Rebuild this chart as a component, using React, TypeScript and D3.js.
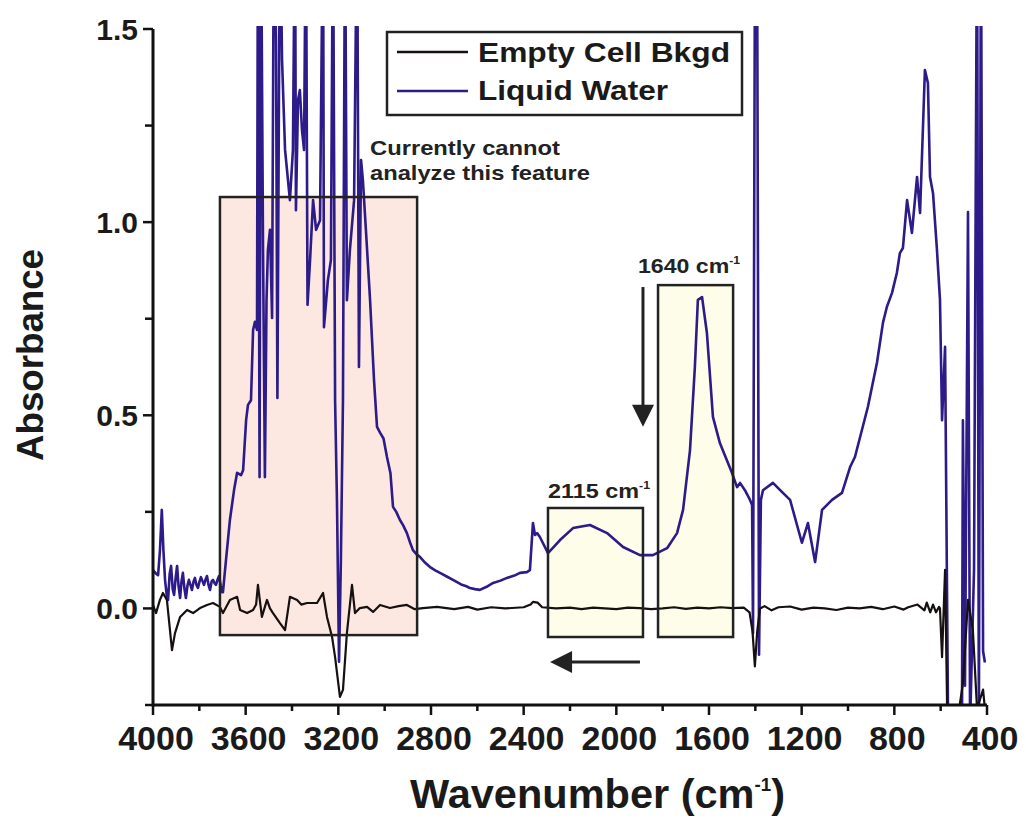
import React from 'react';
import * as d3 from 'd3';

// ---- Data (wavenumber in cm-1, absorbance) ----
const waterWn = [
  4000, 3987, 3978, 3970, 3962, 3955, 3948, 3940, 3935, 3928, 3922, 3915, 3909, 3902, 3896, 3890,
  3883, 3877, 3871, 3864, 3858, 3851, 3845, 3838, 3832, 3825, 3819, 3812, 3806, 3799, 3793, 3786,
  3780, 3773, 3767, 3760, 3754, 3747, 3741, 3734, 3728, 3721, 3715, 3708, 3702, 3698, 3685, 3668,
  3650, 3637, 3620, 3611, 3598, 3590, 3577, 3568, 3560, 3551, 3547, 3540, 3534, 3525, 3517, 3510,
  3504, 3495, 3486, 3478, 3469, 3463, 3452, 3443, 3430, 3409, 3396, 3387, 3383, 3374, 3366, 3357,
  3348, 3340, 3333, 3322, 3309, 3296, 3279, 3266, 3262, 3245, 3232, 3223, 3214, 3206, 3197, 3189,
  3180, 3171, 3163, 3150, 3132, 3119, 3111, 3102, 3094, 3081, 3063, 3046, 3033, 3020, 3005, 2990, 2975, 2964,
  2950, 2934, 2920, 2904, 2890, 2878, 2862, 2847, 2825, 2804, 2780, 2761, 2730, 2705, 2670, 2650, 2632, 2610, 2589, 2560, 2532, 2500, 2472, 2440, 2416, 2386, 2373, 2360, 2351,
  2342, 2330, 2295, 2243, 2187, 2114, 2040, 1971, 1898, 1842, 1781, 1738, 1712, 1682, 1661, 1648,
  1630, 1609, 1583, 1553, 1501, 1479, 1466, 1445, 1423, 1414, 1410, 1401, 1393, 1384, 1376, 1367,
  1324, 1281, 1250, 1199, 1173, 1142, 1112, 1069, 1026, 991, 970, 914, 875, 849, 832, 810,
  789, 776, 763, 745, 724, 702, 689, 668, 655, 646, 633, 616, 603, 594, 581, 568,
  538, 508, 504, 495, 482, 473, 456, 443, 435, 426, 417, 409,
];
const waterAbs = [
  0.099, 0.09, 0.086, 0.15, 0.255, 0.15, 0.074, 0.03, 0.022, 0.09, 0.11, 0.05, 0.035, 0.08, 0.11, 0.06,
  0.027, 0.07, 0.092, 0.05, 0.027, 0.06, 0.074, 0.06, 0.048, 0.07, 0.079, 0.06, 0.053, 0.07, 0.081, 0.07,
  0.061, 0.075, 0.084, 0.06, 0.048, 0.07, 0.074, 0.065, 0.061, 0.075, 0.084, 0.06, 0.042, 0.042, 0.125, 0.229,
  0.307, 0.351, 0.345, 0.358, 0.488, 0.527, 0.539, 0.721, 0.742, 0.721, 1.83, 0.34, 1.83, 0.928, 0.34, 0.798,
  0.928, 0.98, 0.752, 1.83, 1.47, 0.545, 1.83, 1.42, 1.187, 1.057, 1.187, 1.83, 1.031, 1.316, 1.342, 1.239,
  1.187, 1.83, 0.786, 0.902, 1.057, 0.98, 1.005, 1.83, 0.728, 0.85, 0.902, 1.83, 0.539, 0.281, -0.138, 0.125,
  0.539, 1.83, 0.798, 0.928, 1.057, 1.83, 0.625, 1.161, 1.109, 0.98, 0.798, 0.591, 0.47, 0.455, 0.44, 0.392, 0.35, 0.263,
  0.25, 0.229, 0.215, 0.195, 0.17, 0.151, 0.14, 0.133, 0.118, 0.107, 0.098, 0.092, 0.082, 0.074, 0.062, 0.058, 0.053, 0.05, 0.048, 0.056, 0.066, 0.072, 0.079, 0.085, 0.092, 0.094, 0.099, 0.221, 0.19,
  0.195, 0.185, 0.143, 0.177, 0.208, 0.216, 0.195, 0.159, 0.138, 0.138, 0.156, 0.195, 0.255, 0.41, 0.625, 0.799,
  0.806, 0.713, 0.496, 0.428, 0.351, 0.314, 0.325, 0.306, 0.281, 0.268, -0.064, 1.83, 1.83, -0.12, 0.281, 0.306,
  0.325, 0.299, 0.281, 0.17, 0.221, 0.12, 0.255, 0.281, 0.299, 0.366, 0.392, 0.522, 0.636, 0.74, 0.781, 0.817,
  0.869, 0.92, 0.933, 1.057, 0.972, 1.117, 1.024, 1.394, 1.36, 1.117, 1.075, 0.928, 0.799, 0.487, 0.677, -0.3,
  -0.3, -0.3, 0.487, -0.2, 1.026, -0.3, 0.1, 1.83, -0.3, 1.83, -0.11, -0.14,
];

const emptyWn = [
  4000, 3987, 3970, 3957, 3940, 3918, 3905, 3883, 3853, 3827, 3797, 3767, 3741, 3711, 3698, 3668,
  3637, 3624, 3594, 3568, 3555, 3547, 3530, 3508, 3495, 3482, 3452, 3430, 3409, 3378, 3360, 3335,
  3292, 3266, 3249, 3227, 3214, 3193, 3180, 3163, 3141, 3128, 3107, 3076, 3050, 3020, 2977, 2940,
  2904, 2870, 2835, 2774, 2700, 2640, 2600, 2540, 2480, 2400, 2370, 2360, 2340, 2320, 2260, 2200,
  2150, 2100, 2050, 2000, 1950, 1900, 1850, 1800, 1750, 1700, 1650, 1600, 1550, 1500, 1450, 1425,
  1412, 1402, 1392, 1380, 1360, 1330, 1300, 1250, 1200, 1150, 1100, 1050, 1000, 950, 900, 850,
  800, 760, 740, 700, 670, 660, 645, 633, 620, 607, 603, 594, 581, 572, 560, 530,
  504, 482, 461, 443, 417, 409,
];
const emptyAbs = [
  0.009, -0.012, 0.022, 0.04, 0.022, -0.108, -0.064, -0.022, -0.004, -0.012, 0.001, 0.009, 0.014, 0.004, -0.012, 0.022,
  0.03, -0.004, -0.012, -0.004, 0.01, 0.061, -0.022, 0.022, 0.0, -0.012, -0.038, -0.056, 0.03, 0.022, 0.01, 0.014,
  0.014, 0.04, -0.022, -0.074, -0.126, -0.229, -0.211, -0.064, 0.061, -0.012, 0.001, 0.004, -0.009, 0.009, 0.001, 0.006,
  0.009, -0.002, 0.001, 0.004, -0.002, 0.004, -0.003, 0.003, 0.0, 0.003, 0.01, 0.017, 0.015, 0.003, 0.0, 0.002,
  -0.002, 0.002, 0.0, -0.002, 0.002, 0.001, -0.002, 0.0, 0.003, -0.001, 0.002, 0.0, 0.003, 0.001, 0.002, -0.01,
  -0.06, -0.15, -0.06, 0.0, 0.006, -0.005, 0.003, 0.005, -0.003, 0.002, 0.0, -0.004, 0.002, 0.0, 0.004, -0.002,
  0.005, -0.003, 0.003, 0.01, -0.005, 0.015, -0.01, 0.01, -0.01, 0.004, 0.0, -0.126, 0.1, -0.26, -0.3, -0.3,
  -0.194, 0.022, -0.056, -0.26, -0.21, -0.26,
];

const seriesNames = ['Empty Cell Bkgd', 'Liquid Water'];
const xTickValues = [4000, 3600, 3200, 2800, 2400, 2000, 1600, 1200, 800, 400];
const xMinorValues = [3800, 3400, 3000, 2600, 2200, 1800, 1400, 1000, 600];
const yTickValues = [0, 0.5, 1.0, 1.5];
const yTickLabels = ['0.0', '0.5', '1.0', '1.5'];
const yMinorValues = [-0.25, 0.25, 0.75, 1.25];

// highlighted regions: [wn start, wn end], [abs low, abs high]
const regionWn = [[3711, 2860], [2295, 1885], [1820, 1496]];
const regionAbs = [[-0.069, 1.065], [-0.074, 0.26], [-0.074, 0.837]];
const peakLabels = ['2115', '1640'];

const FONT = '"Liberation Sans", Arial, Helvetica, sans-serif';

export default function App() {
  const W = 1026;
  const H = 826;
  const m = { left: 153, right: 39, top: 29, bottom: 121 };
  const x = d3.scaleLinear().domain([4000, 400]).range([m.left, W - m.right]);
  const y = d3.scaleLinear().domain([-0.25, 1.5]).range([H - m.bottom, m.top]);

  const water = waterWn.map((w, i) => [w, waterAbs[i]] as [number, number]);
  const empty = emptyWn.map((w, i) => [w, emptyAbs[i]] as [number, number]);
  const line = d3
    .line<[number, number]>()
    .x((d) => x(d[0]))
    .y((d) => y(d[1]));

  const blue = '#2c1b88';
  const boxStroke = '#222';
  const fills = ['#fde8e1', '#fefdea', '#fefdea'];

  const x0 = x(4000);
  const x1 = x(400);
  const y0 = y(-0.25);
  const y1 = y(1.5);

  // arrows
  const dArrowX = x(1885);
  const dArrowTop = y(0.832);
  const dArrowTip = y(0.47);
  const lArrowY = y(-0.139);
  const lArrowStart = x(1898);
  const lArrowTip = x(2286);

  return (
    <svg
      width={W}
      height={H}
      style={{ position: 'absolute', left: 0, top: 0, background: '#fff' }}
      fontFamily={FONT}
    >
      <defs>
        <clipPath id="plotClip">
          <rect x={x0} y={y1 - 3} width={x1 - x0} height={y0 - y1 + 3} />
        </clipPath>
      </defs>
      <rect x={0} y={0} width={W} height={H} fill="#fff" />

      {/* region fills */}
      {regionWn.map((r, i) => (
        <rect
          key={'f' + i}
          x={x(r[0])}
          y={y(regionAbs[i][1])}
          width={x(r[1]) - x(r[0])}
          height={y(regionAbs[i][0]) - y(regionAbs[i][1])}
          fill={fills[i]}
        />
      ))}

      {/* data */}
      <g clipPath="url(#plotClip)">
        <path d={line(water) || ''} fill="none" stroke={blue} strokeWidth={2.6} strokeLinejoin="round" />
        <path d={line(empty) || ''} fill="none" stroke="#161010" strokeWidth={2.2} strokeLinejoin="round" />
      </g>

      {/* region outlines */}
      {regionWn.map((r, i) => (
        <rect
          key={'s' + i}
          x={x(r[0])}
          y={y(regionAbs[i][1])}
          width={x(r[1]) - x(r[0])}
          height={y(regionAbs[i][0]) - y(regionAbs[i][1])}
          fill="none"
          stroke={boxStroke}
          strokeWidth={2.5}
        />
      ))}

      {/* arrows */}
      <line x1={dArrowX} y1={dArrowTop} x2={dArrowX} y2={dArrowTip - 20} stroke="#222" strokeWidth={3} />
      <path
        d={`M${dArrowX - 11},${dArrowTip - 22} L${dArrowX + 11},${dArrowTip - 22} L${dArrowX},${dArrowTip} Z`}
        fill="#222"
      />
      <line x1={lArrowStart} y1={lArrowY} x2={lArrowTip + 20} y2={lArrowY} stroke="#222" strokeWidth={3} />
      <path
        d={`M${lArrowTip + 22},${lArrowY - 11} L${lArrowTip + 22},${lArrowY + 11} L${lArrowTip},${lArrowY} Z`}
        fill="#222"
      />

      {/* peak labels */}
      <text x={548} y={498} fontSize={21} fontWeight="bold" fill="#222" textLength={102} lengthAdjust="spacingAndGlyphs">
        {peakLabels[0]} cm
        <tspan dy={-9} fontSize={11}>-1</tspan>
      </text>
      <text x={638} y={273} fontSize={21} fontWeight="bold" fill="#222" textLength={102} lengthAdjust="spacingAndGlyphs">
        {peakLabels[1]} cm
        <tspan dy={-9} fontSize={11}>-1</tspan>
      </text>

      {/* note */}
      <text x={370} y={155} fontSize={21} fontWeight="bold" fill="#222" textLength={190} lengthAdjust="spacingAndGlyphs">
        Currently cannot
      </text>
      <text x={370} y={180} fontSize={21} fontWeight="bold" fill="#222" textLength={220} lengthAdjust="spacingAndGlyphs">
        analyze this feature
      </text>

      {/* axes */}
      <line x1={x0} y1={y0} x2={x1} y2={y0} stroke="#111" strokeWidth={3} />
      <line x1={x0} y1={y0 + 1.5} x2={x0} y2={y1} stroke="#111" strokeWidth={3} />
      {xTickValues.map((v) => (
        <g key={'xt' + v}>
          <line x1={x(v)} y1={y0} x2={x(v)} y2={y0 + 10} stroke="#111" strokeWidth={2.5} />
          <text x={x(v) + 3} y={750} fontSize={34} fontWeight="bold" textAnchor="middle" fill="#1a1a1a">
            {v}
          </text>
        </g>
      ))}
      {xMinorValues.map((v) => (
        <line key={'xm' + v} x1={x(v)} y1={y0} x2={x(v)} y2={y0 + 6} stroke="#111" strokeWidth={2.5} />
      ))}
      {yTickValues.map((v, i) => (
        <g key={'yt' + v}>
          <line x1={x0} y1={y(v)} x2={x0 - 10} y2={y(v)} stroke="#111" strokeWidth={2.5} />
          <text
            x={138}
            y={y(v)}
            dy="0.36em"
            fontSize={30}
            fontWeight="bold"
            textAnchor="end"
            fill="#1a1a1a"
          >
            {yTickLabels[i]}
          </text>
        </g>
      ))}
      {yMinorValues.map((v) => (
        <line key={'ym' + v} x1={x0} y1={y(v)} x2={x0 - 8} y2={y(v)} stroke="#111" strokeWidth={2.5} />
      ))}

      {/* axis titles */}
      <text x={410} y={808} fontSize={40} fontWeight="bold" fill="#1a1a1a" textLength={375} lengthAdjust="spacingAndGlyphs">
        Wavenumber (cm
        <tspan dy={-17} fontSize={18}>-1</tspan>
        <tspan dy={17}>)</tspan>
      </text>
      <text
        transform={`translate(43,${355}) rotate(-90)`}
        fontSize={36}
        fontWeight="bold"
        textAnchor="middle"
        fill="#1a1a1a"
        textLength={212}
        lengthAdjust="spacingAndGlyphs"
      >
        Absorbance
      </text>

      {/* legend */}
      <rect x={387} y={32} width={355} height={83} fill="#fff" stroke="#222" strokeWidth={2.5} />
      <line x1={397} y1={52} x2={468} y2={52} stroke="#161010" strokeWidth={2.5} />
      <line x1={397} y1={91} x2={468} y2={91} stroke={blue} strokeWidth={2.5} />
      <text x={478} y={62} fontSize={28} fontWeight="bold" fill="#1a1a1a" textLength={252} lengthAdjust="spacingAndGlyphs">
        {seriesNames[0]}
      </text>
      <text x={478} y={100} fontSize={28} fontWeight="bold" fill="#1a1a1a" textLength={190} lengthAdjust="spacingAndGlyphs">
        {seriesNames[1]}
      </text>
    </svg>
  );
}
